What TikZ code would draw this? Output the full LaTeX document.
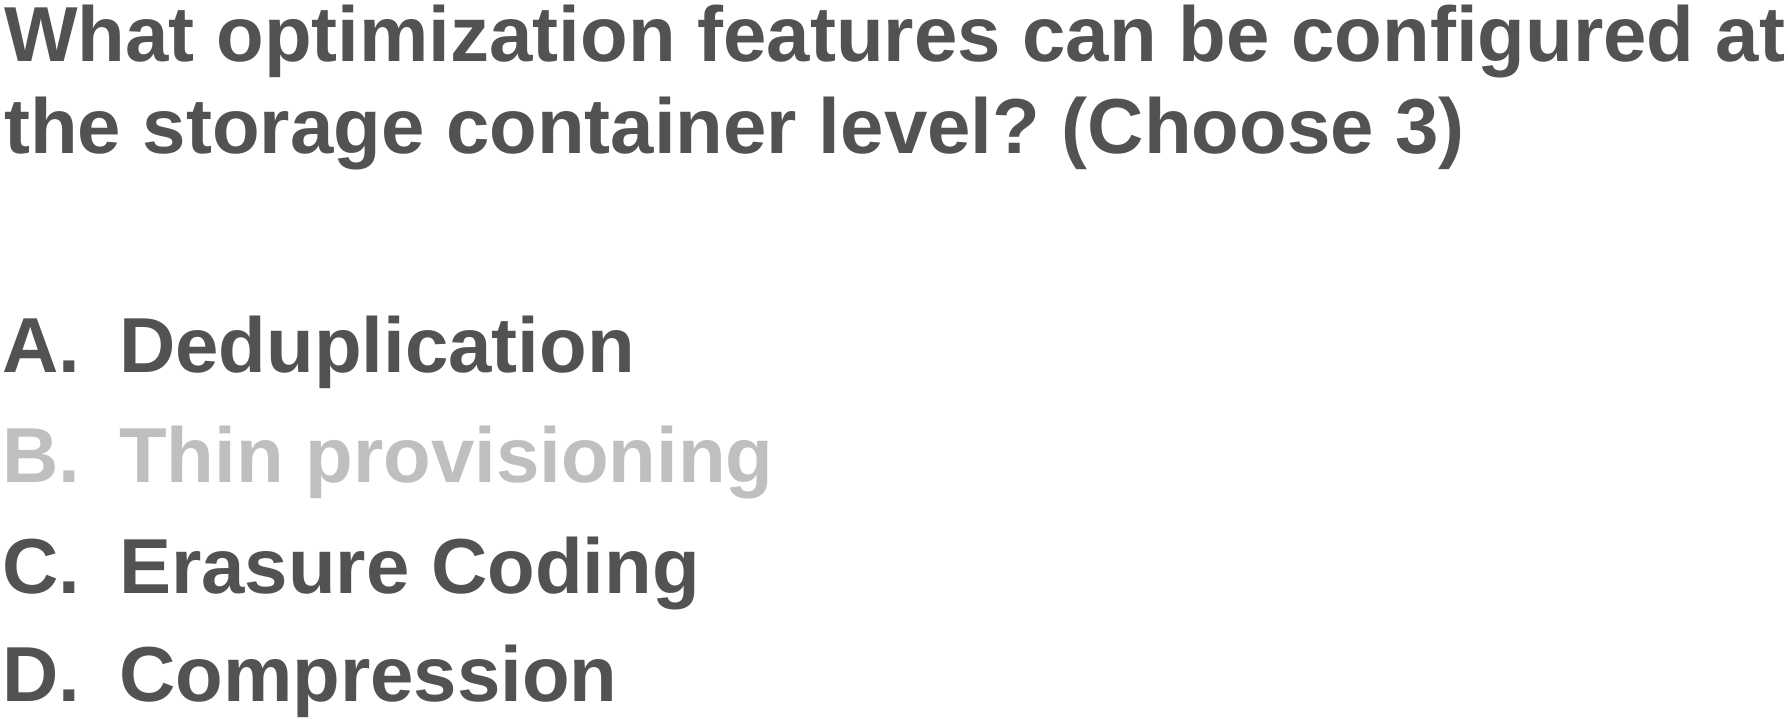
\documentclass[tikz,border=0pt]{standalone}
\usepackage{fontspec}
\setmainfont{Liberation Sans}
\usepackage{xcolor}
\usetikzlibrary{positioning}
\frenchspacing

\definecolor{txtgray}{HTML}{515254}
\definecolor{lightgray}{HTML}{BFBFBF}

\tikzset{
  qline/.style={anchor=base west, inner sep=0pt, text=txtgray,
    font=\fontsize{78}{90}\selectfont\bfseries},
  optlbl/.style={qline},
  opttxt/.style={qline},
  greyed/.style={text=lightgray}
}

\begin{document}
\begin{tikzpicture}[x=1pt,y=1pt]
\useasboundingbox[fill=white] (0,0) rectangle (1788,722);

% question
\node[qline] (q1) at (4,660) {What optimization features can be configured at};
\node[qline] (q2) at (4,568) {the storage container level? (Choose 3)};

% answers
\node[optlbl] (la) at (2,349) {A.};
\node[opttxt] (ta) at (119,349) {Deduplication};
\node[optlbl, greyed] (lb) at (2,239) {B.};
\node[opttxt, greyed] (tb) at (119,239) {Thin provisioning};
\node[optlbl] (lc) at (2,128) {C.};
\node[opttxt] (tc) at (119,128) {Erasure Coding};
\node[optlbl] (ld) at (2,20) {D.};
\node[opttxt] (td) at (119,20) {Compression};
\end{tikzpicture}
\end{document}
